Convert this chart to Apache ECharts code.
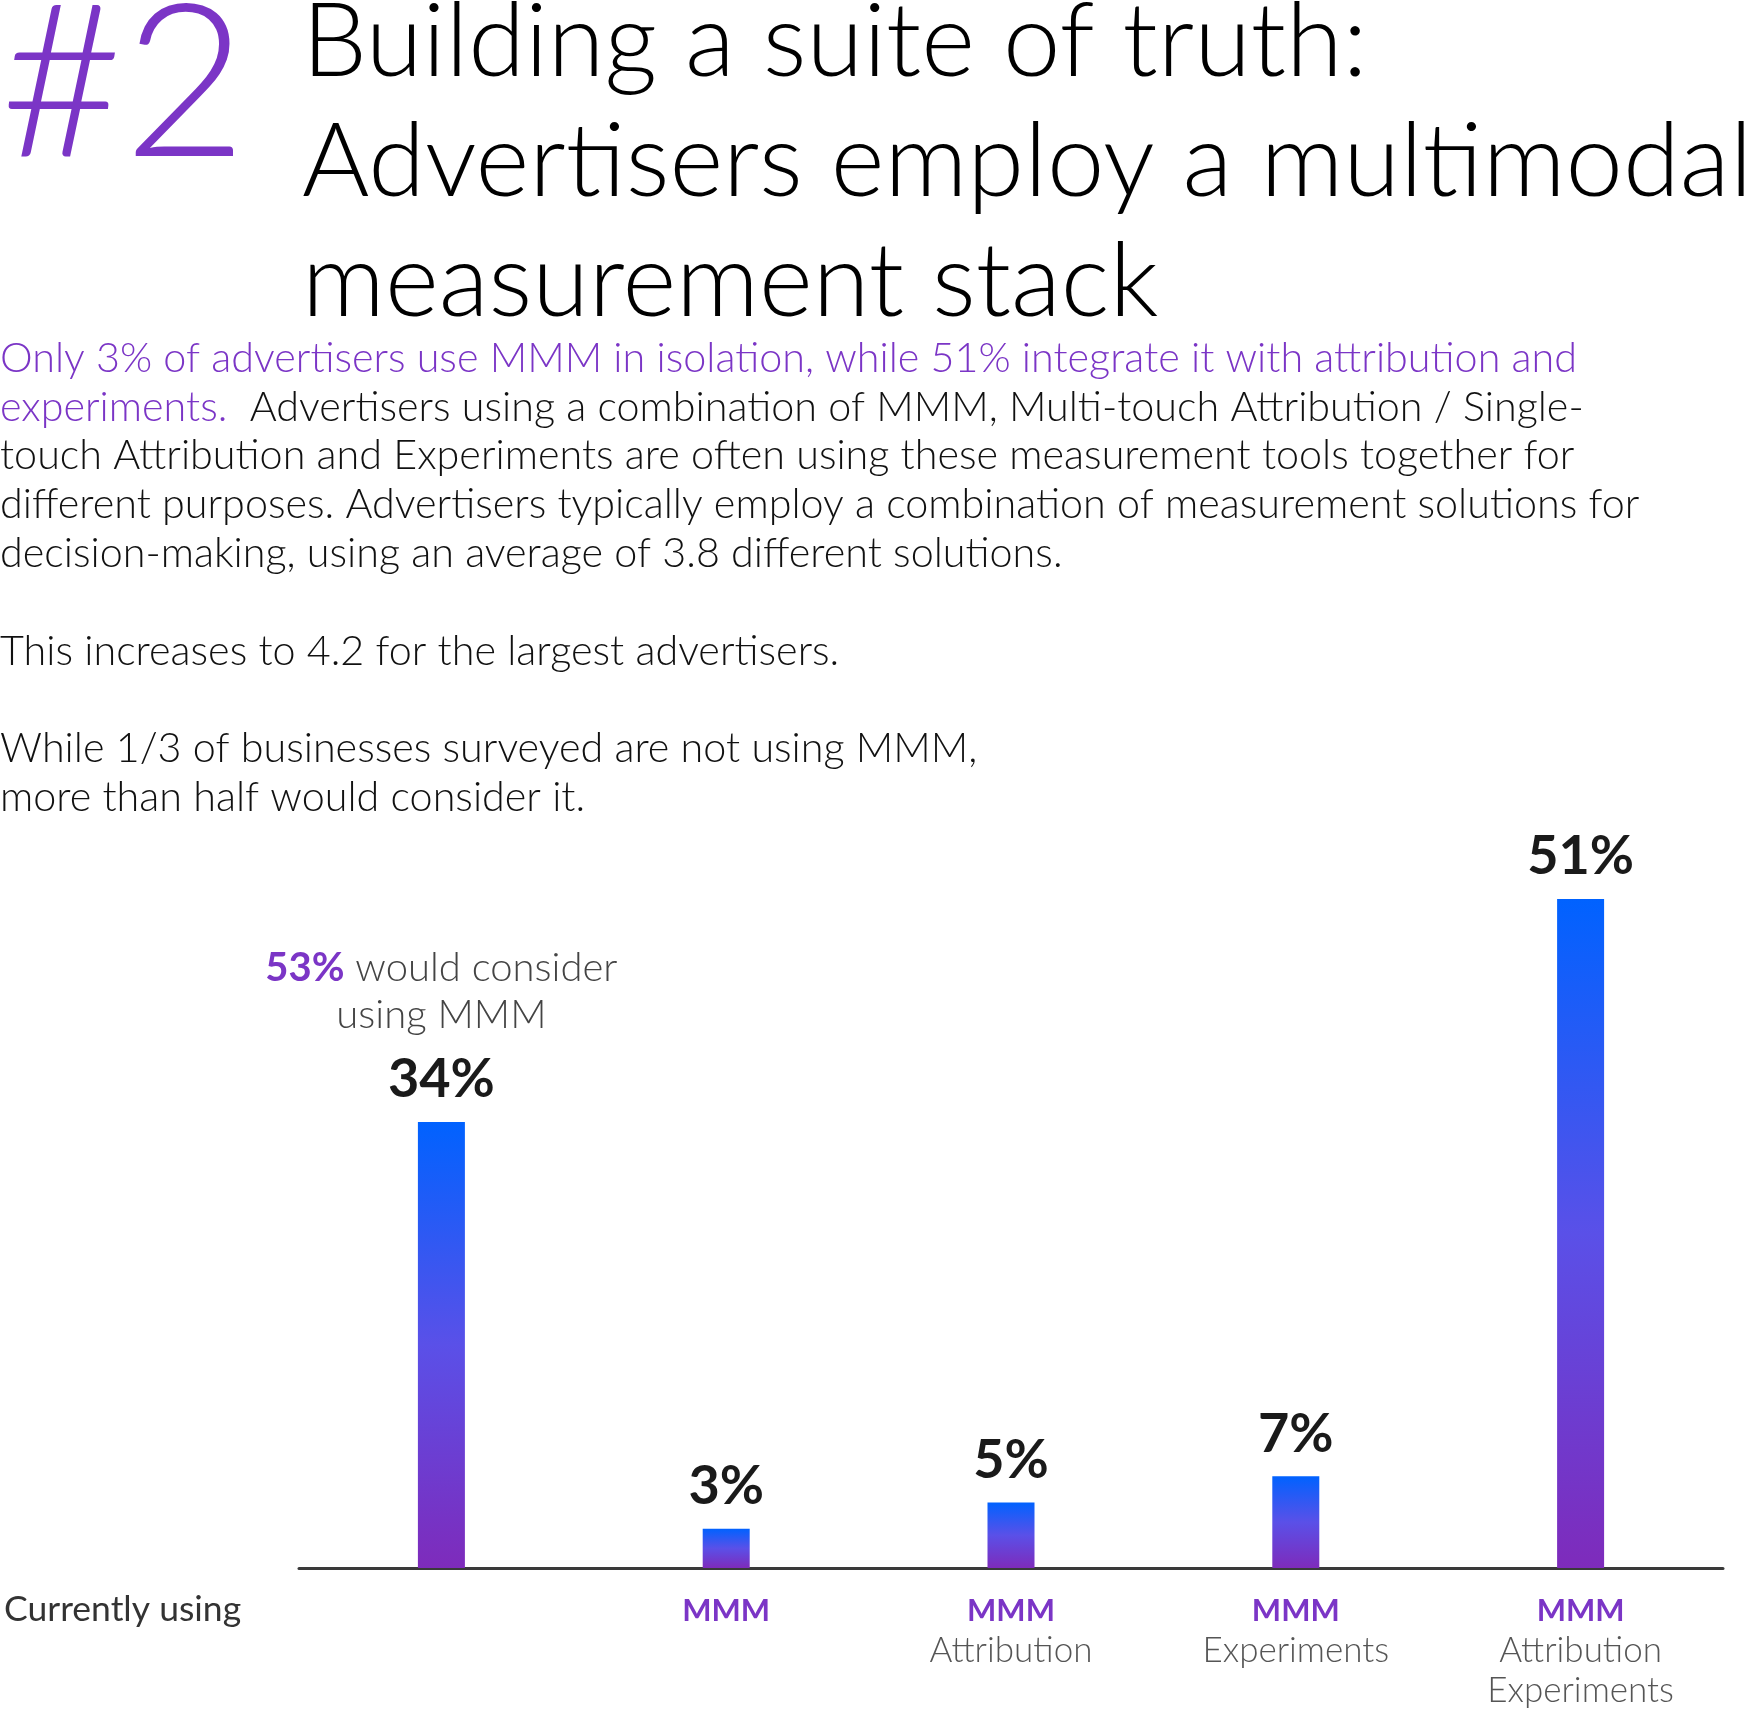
<!DOCTYPE html>
<html>
<head>
<meta charset="utf-8">
<script src="https://cdn.jsdelivr.net/npm/echarts@6/dist/echarts.min.js"></script>
<style>
  html, body { margin: 0; padding: 0; background: #fff; }
  #chart { width: 1762px; height: 1713px; }
</style>
</head>
<body>
<div id="chart"></div>
<script>
var categories = ['', 'MMM', 'MMM\nAttribution', 'MMM\nExperiments', 'MMM\nAttribution\nExperiments']
var values = [34, 3, 5, 7, 51]
var considerPct = 53

var purple = '#7B35C6'
var font = 'Lato'

let seriesData = values.map(function (v, i) {
    if (i === 0) {
        // first bar carries the "would consider" note above its value
        return {
            value: v,
            label: {
                formatter: '{pp|' + considerPct + '%}{g| would consider}\n{g|using MMM}\n{s| }\n{v|' + v + '%}'
            }
        }
    }
    return v
})

let myChart = echarts.init(document.getElementById('chart'))
let option = {
    backgroundColor: '#fff',
    textStyle: { fontFamily: font },
    title: [
        {
            text: '#2',
            left: 0,
            top: -19,
            padding: 0,
            textStyle: { fontSize: 213, fontWeight: 300, color: purple, lineHeight: 213, fontFamily: font }
        },
        {
            text: 'Building a suite of truth:\nAdvertisers employ a multimodal\nmeasurement stack',
            left: 302,
            top: -17,
            padding: 0,
            textStyle: { fontSize: 103, fontWeight: 300, color: '#000', lineHeight: 120, fontFamily: font }
        },
        {
            text: '{p|Only 3% of advertisers use MMM in isolation, while 51% integrate it with attribution and}\n' +
                '{p|experiments.}{b|  Advertisers using a combination of MMM, Multi-touch Attribution / Single-}\n' +
                '{b|touch Attribution and Experiments are often using these measurement tools together for}\n' +
                '{b|different purposes. Advertisers typically employ a combination of measurement solutions for}\n' +
                '{b|decision-making, using an average of 3.8 different solutions.}\n' +
                '{b| }\n' +
                '{b|This increases to 4.2 for the largest advertisers.}\n' +
                '{b| }\n' +
                '{b|While 1/3 of businesses surveyed are not using MMM,}\n' +
                '{b|more than half would consider it.}',
            left: 0,
            top: 334,
            padding: 0,
            textStyle: {
                lineHeight: 48.8,
                rich: {
                    p: { fontSize: 41.3, fontWeight: 300, color: purple, lineHeight: 48.8, fontFamily: font },
                    b: { fontSize: 41.3, fontWeight: 300, color: '#111', lineHeight: 48.8, fontFamily: font }
                }
            }
        },
        {
            text: 'Currently using',
            left: 4,
            top: 1590,
            padding: 0,
            textStyle: { fontSize: 35.5, fontWeight: 'normal', color: '#333', lineHeight: 40, fontFamily: font }
        }
    ],
    grid: {
        left: 299,
        right: 39,
        top: 781,
        bottom: 145
    },
    xAxis: {
        type: 'category',
        data: categories,
        axisLine: { lineStyle: { color: '#3a3a3a', width: 3 } },
        axisTick: { show: false },
        axisLabel: {
            interval: 0,
            margin: 23,
            formatter: function (val) {
                return val.split('\n').map(function (s, i) {
                    return i === 0 ? '{m|' + s + '}' : '{g|' + s + '}'
                }).join('\n')
            },
            rich: {
                m: { fontSize: 31, fontWeight: 'bold', color: purple, lineHeight: 40, fontFamily: font },
                g: { fontSize: 35, fontWeight: 300, color: '#555', lineHeight: 40, fontFamily: font }
            }
        }
    },
    yAxis: {
        type: 'value',
        min: 0,
        max: 60,
        show: false,
        splitLine: { show: false }
    },
    series: [
        {
            type: 'bar',
            data: seriesData,
            barWidth: 47,
            itemStyle: {
                color: new echarts.graphic.LinearGradient(0, 0, 0, 1, [
                    { offset: 0, color: '#0062FF' },
                    { offset: 0.5, color: '#5A50E8' },
                    { offset: 1, color: '#7E2BBB' }
                ])
            },
            label: {
                show: true,
                position: 'top',
                distance: 14,
                formatter: '{v|{c}%}',
                rich: {
                    v: { fontSize: 54, fontWeight: 'bold', color: '#1a1a1a', lineHeight: 56, fontFamily: font },
                    pp: { fontSize: 40, fontWeight: 'bold', color: purple, lineHeight: 47, fontFamily: font },
                    g: { fontSize: 40, fontWeight: 300, color: '#444', lineHeight: 47, fontFamily: font },
                    s: { fontSize: 10, lineHeight: 13 }
                }
            }
        }
    ],
    animation: false
}

myChart.setOption(option)
</script>
</body>
</html>
